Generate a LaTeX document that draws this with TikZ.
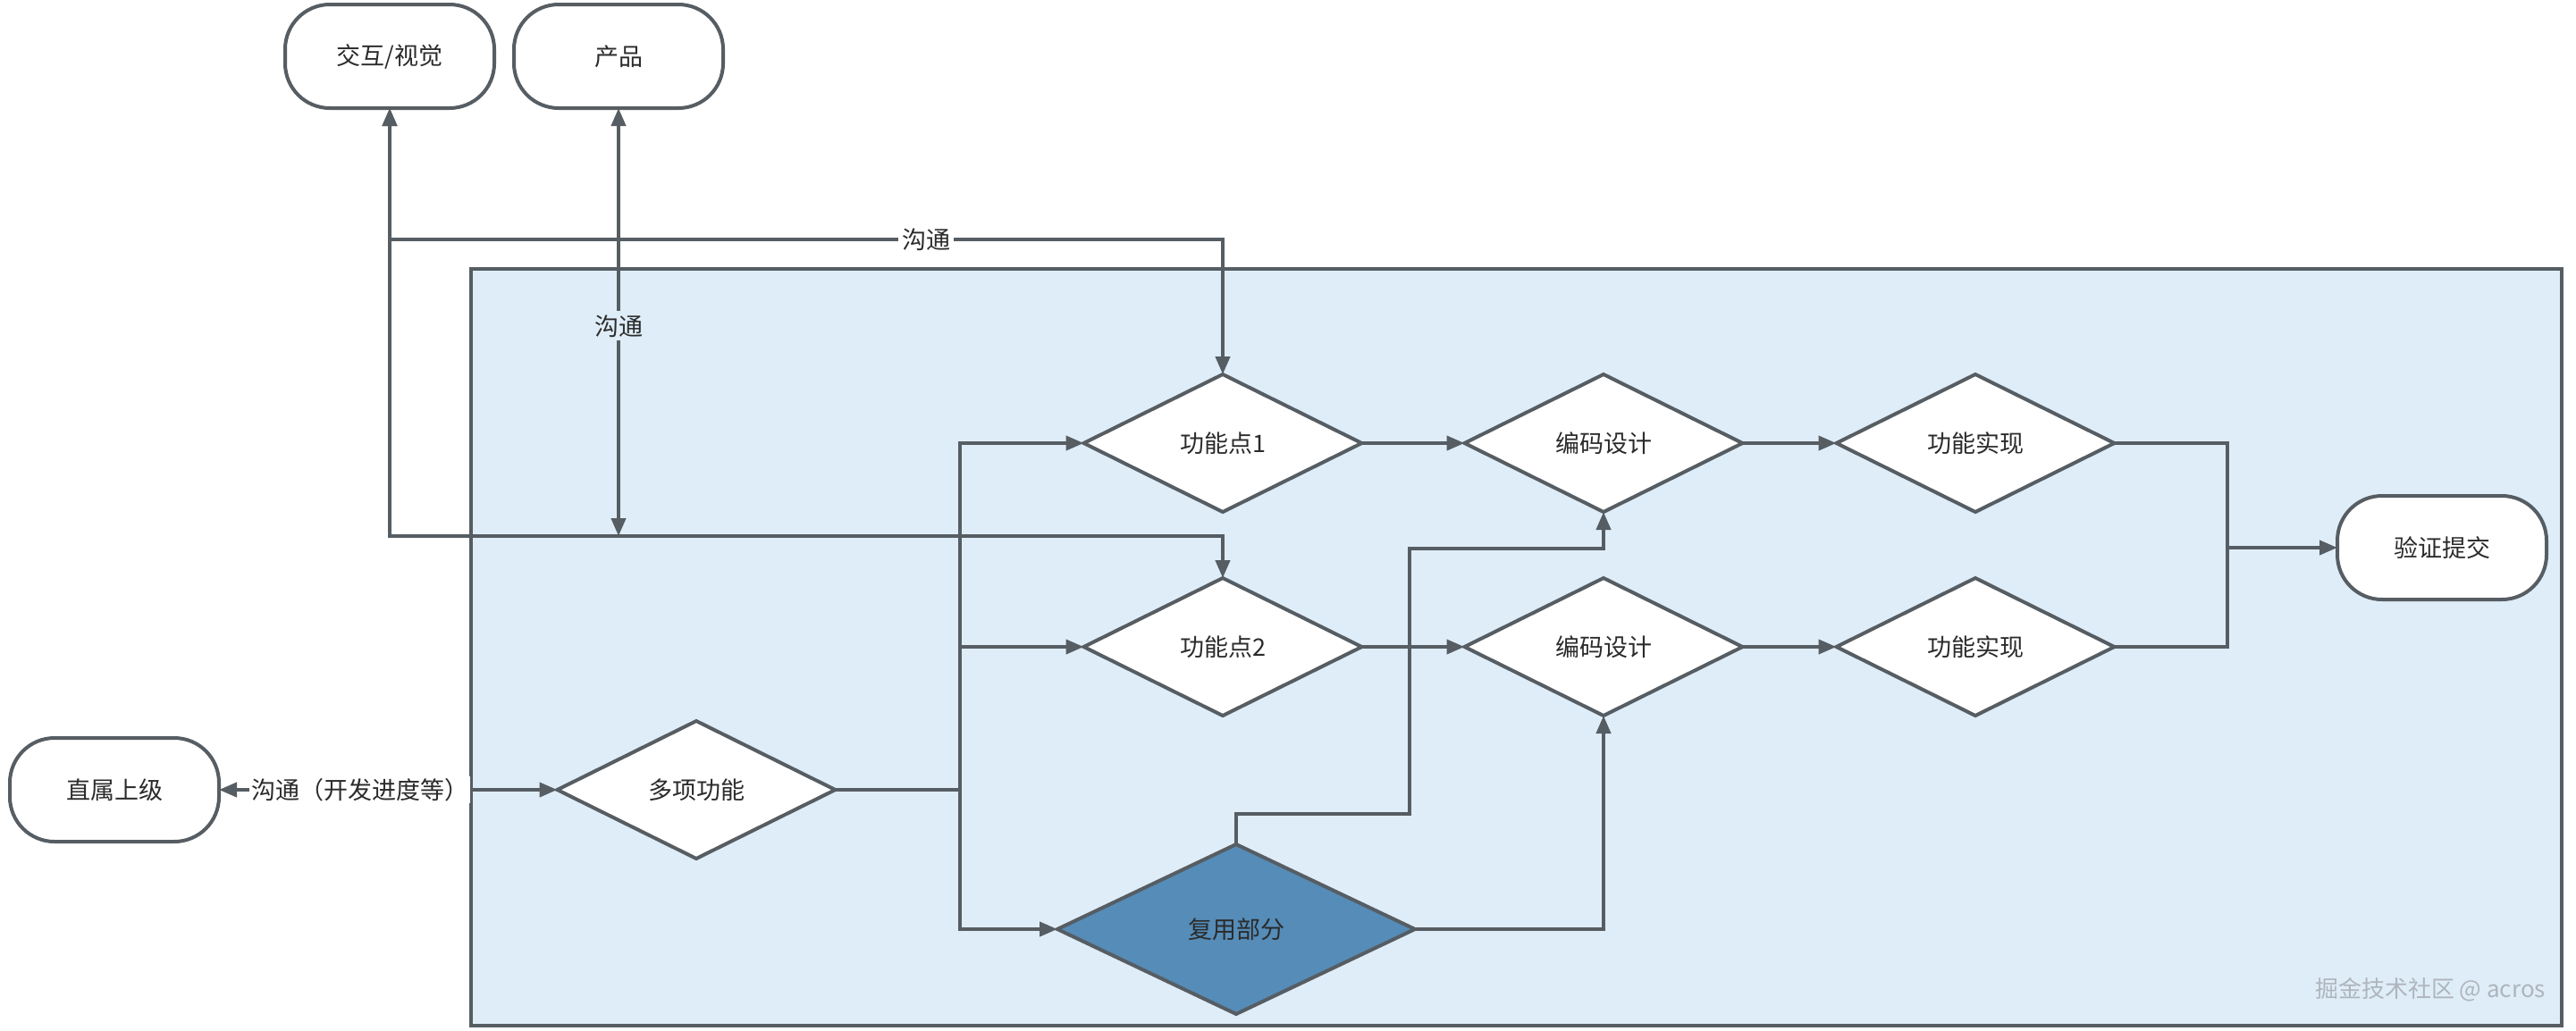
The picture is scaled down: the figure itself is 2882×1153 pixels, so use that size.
\documentclass[tikz,border=0pt]{standalone}
\usepackage{fontspec}
\setmainfont{Noto Sans CJK SC}
\usetikzlibrary{shapes.geometric,arrows.meta}
\definecolor{lnc}{HTML}{565D63}
\definecolor{bgc}{HTML}{DFEDF8}
\definecolor{fyc}{HTML}{558CB8}
\definecolor{txc}{HTML}{2B2B2B}
\definecolor{wmc}{HTML}{AEB5BC}
\tikzset{
  conn/.style={draw=lnc, line width=2pt, arrows={-Triangle[length=10pt,width=8pt]}},
  biconn/.style={draw=lnc, line width=2pt, arrows={Triangle[length=10pt,width=8pt]-Triangle[length=10pt,width=8pt]}},
  plain/.style={draw=lnc, line width=2pt},
  term/.style={draw=lnc, line width=2pt, fill=white, rounded corners=25pt, minimum width=117pt, minimum height=58pt, outer sep=0pt, font=\fontsize{13.5}{16}\selectfont, text=txc},
  dia/.style={diamond, aspect=2, draw=lnc, line width=2pt, fill=white, minimum width=155.5pt, minimum height=77pt, inner sep=0pt, outer sep=0pt, font=\fontsize{13.5}{16}\selectfont, text=txc},
  lbl/.style={font=\fontsize{13.5}{16}\selectfont, text=txc, inner sep=2pt}
}
\begin{document}
\begin{tikzpicture}[x=0.5pt,y=-0.5pt]
\useasboundingbox (0,0) rectangle (2882,1153);
\fill[white] (0,0) rectangle (2882,1153);
% container
\draw[draw=lnc, line width=2pt, fill=bgc] (527,301) rectangle (2866,1148);
% nodes
\node[term] (jh) at (436,63) {交互/视觉};
\node[term] (cp) at (692,63) {产品};
\node[term] (zs) at (128,884) {直属上级};
\node[term] (yz) at (2732,613) {验证提交};
\node[dia] (dx) at (779,884) {多项功能};
\node[dia] (f1) at (1368,496) {功能点1};
\node[dia] (f2) at (1368,724) {功能点2};
\node[dia] (bm1) at (1794,496) {编码设计};
\node[dia] (bm2) at (1794,724) {编码设计};
\node[dia] (gs1) at (2210,496) {功能实现};
\node[dia] (gs2) at (2210,724) {功能实现};
\node[dia, fill=fyc, minimum width=200pt, minimum height=95pt] (fy) at (1383,1040) {复用部分};
% helper coordinates
\coordinate (c1) at (436,268);
\coordinate (c2) at (436,600);
\coordinate (c3) at (692,600);
\coordinate (b) at (1074,884);
\coordinate (m) at (2492,613);
\coordinate (c5) at (1577,911);
\coordinate (c6) at (1577,614);
% connectors
\draw[biconn] (jh.south) -- (c1) -| (f1.north)
  node[pos=0.322, lbl, fill=white] {沟通};
\draw[biconn] (jh.south) -- (c2) -| (f2.north);
\draw[biconn] (cp.south) -- (c3) node[pos=0.509, lbl, fill=bgc] {沟通};
\draw[biconn] (zs.east) -- (dx.west) node[pos=0.417, lbl, fill=white, inner sep=1pt] {沟通（开发进度等）};
\draw[plain] (dx.east) -- (b);
\draw[conn] (b) |- (f1.west);
\draw[conn] (b) |- (f2.west);
\draw[conn] (b) |- (fy.west);
\draw[conn] (f1.east) -- (bm1.west);
\draw[conn] (f2.east) -- (bm2.west);
\draw[conn] (bm1.east) -- (gs1.west);
\draw[conn] (bm2.east) -- (gs2.west);
\draw[plain] (gs1.east) -| (m);
\draw[plain] (gs2.east) -| (m);
\draw[conn] (m) -- (yz.west);
\draw[conn] (fy.north) -- (fy.north |- c5) -- (c5) -- (c6) -| (bm1.south);
\draw[conn] (fy.east) -| (bm2.south);
% watermark
\node[font=\fontsize{13}{15}\selectfont, text=wmc, anchor=east] (wm) at (2855,1108) {掘金技术社区 @ acros};
\end{tikzpicture}
\end{document}
